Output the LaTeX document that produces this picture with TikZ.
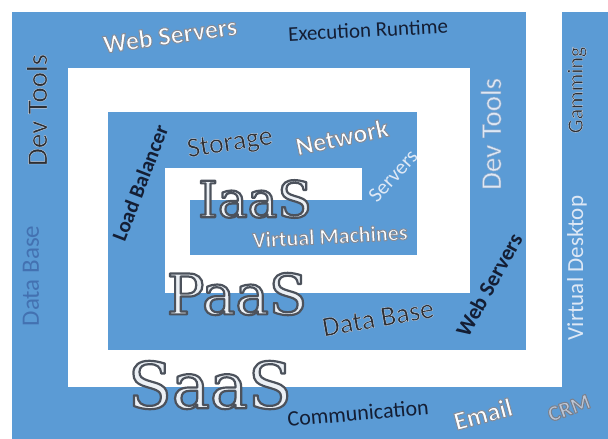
\documentclass[tikz,border=0pt]{standalone}
\usepackage{fontspec}
\setmainfont{Carlito}
\newfontfamily\bigserif{DejaVu Serif}
\definecolor{sblue}{RGB}{91,155,213}
\definecolor{navytxt}{RGB}{20,30,52}
\definecolor{darktxt}{RGB}{45,47,52}
\definecolor{lighttxt}{RGB}{222,232,245}
\definecolor{bigfill}{RGB}{236,240,245}
\definecolor{fadeblue}{RGB}{60,100,165}
\definecolor{crmfill}{RGB}{190,198,212}
% outlined text: #1 stroke colour (r g b, 0..1), #2 stroke width, #3 text
\newcommand{\ostroke}[3]{\special{pdf:literal direct #1 RG #2 w 1 j 2 Tr}#3\special{pdf:literal direct 0 Tr}}
\newcommand{\wordart}[1]{\ostroke{0.52 0.55 0.60}{1.0}{#1}}
\newcommand{\glowtxt}[1]{\ostroke{0.80 0.85 0.92}{0.35}{#1}}
\newcommand{\lightout}[1]{\ostroke{0.55 0.65 0.78}{0.5}{#1}}
\newcommand{\bigout}[1]{\ostroke{0.30 0.32 0.36}{2.2}{#1}}
\tikzset{
  every node/.style={inner sep=0pt, outer sep=0pt},
  fs/.style={font=\fontsize{#1}{#1}\selectfont},
  fsb/.style={font=\fontsize{#1}{#1}\selectfont\bfseries},
  navylbl/.style={text=navytxt},
  darklbl/.style={text=darktxt},
  lightlbl/.style={text=lighttxt},
  walbl/.style={text=white},
  biglbl/.style={text=bigfill, font=\fontsize{#1}{#1}\selectfont\bigserif},
}
\begin{document}
\begin{tikzpicture}[x=1pt,y=-1pt]
\path[use as bounding box] (0,0) rectangle (608,439);
% spiral bands
\fill[sblue] (12,12) rectangle (608,439);
\fill[white] (68,68) rectangle (562,387);
\fill[white] (526,12) rectangle (562,387);
\fill[sblue] (470,12) rectangle (526,350);
\fill[sblue] (108,112) rectangle (526,350);
\fill[white] (417,68) rectangle (470,293);
\fill[white] (165,168) rectangle (417,293);
\fill[sblue] (362,112) rectangle (417,255);
\fill[sblue] (190,200) rectangle (417,255);
% outer band labels
\node[walbl, fsb=26, rotate=8] (ws1) at (170,35) {\wordart{Web Servers}};
\node[navylbl, fs=21, rotate=3] (exe) at (368,30) {Execution Runtime};
\node[darklbl, fs=29, rotate=90] (dt1) at (37,110) {\glowtxt{Dev Tools}};
\node[text=fadeblue, opacity=0.75, fs=25, rotate=90] (db1) at (31,276) {Data Base};
\node[darklbl, fs=22, rotate=90] (gam) at (577,90) {\glowtxt{Gamming}};
\node[lightlbl, fs=23, rotate=90] (vd) at (577,268) {Virtual Desktop};
\node[navylbl, fs=22, rotate=5] (com) at (358,413) {Communication};
\node[walbl, fsb=26, rotate=15] (email) at (483,414) {\wordart{Email}};
\node[text=crmfill, fsb=22, rotate=20] (crm) at (569,408) {\ostroke{0.48 0.50 0.55}{1.0}{CRM}};
% middle band labels
\node[lightlbl, fs=29, rotate=90] (dt2) at (491,134) {\lightout{Dev Tools}};
\node[navylbl, fsb=21, rotate=69] (lb) at (140,183) {Load Balancer};
\node[darklbl, fs=28, rotate=9] (sto) at (230,144) {\glowtxt{Storage}};
\node[walbl, fsb=26, rotate=12] (net) at (342,137) {\wordart{Network}};
\node[lightlbl, fs=21, rotate=48] (srv) at (393,176) {Servers};
\node[darklbl, fs=28, rotate=10] (db2) at (378,318) {\glowtxt{Data Base}};
\node[navylbl, fsb=22, rotate=61] (ws2) at (489,285) {Web Servers};
% inner labels
\node[walbl, fsb=22, rotate=3] (vm) at (330,236) {\wordart{Virtual Machines}};
% big titles
\node[biglbl=50] (iaas) at (255,199) {\bigout{IaaS}};
\node[biglbl=56] (paas) at (237,294) {\bigout{PaaS}};
\node[biglbl=64] (saas) at (210,385) {\bigout{SaaS}};
\end{tikzpicture}
\end{document}
